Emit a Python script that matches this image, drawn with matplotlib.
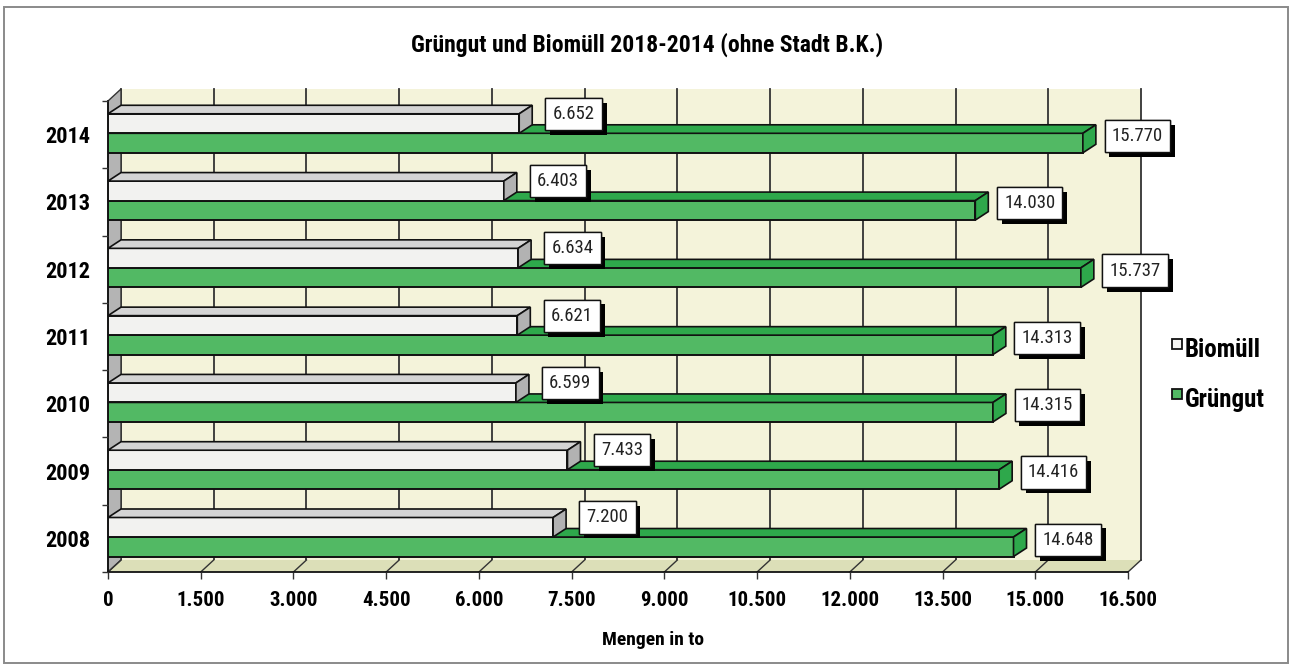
import matplotlib
matplotlib.use("Agg")
import matplotlib.pyplot as plt
import matplotlib.ticker as mticker
import matplotlib.patheffects as pe
from matplotlib.patches import Polygon, Rectangle

plt.rcParams["font.family"] = ["Roboto Condensed", "DejaVu Sans"]
plt.rcParams["font.stretch"] = "condensed"

WALL   = "#f4f3da"
FLOOR  = "#dcdfb8"
LWALL  = "#b4b4b4"
WHITE  = "#f2f2f0"
WTOP   = "#d4d4d4"
WSIDE  = "#b2b2b2"
GREEN  = "#52b964"
GDARK  = "#2ea84b"
INK    = "#111111"

years    = ["2008", "2009", "2010", "2011", "2012", "2013", "2014"]
biomuell = [7200, 7433, 6599, 6621, 6634, 6403, 6652]
gruengut = [14648, 14416, 14315, 14313, 15737, 14030, 15770]
xticks   = list(range(0, 16501, 1500))

W, H = 1291, 666
X0, X1 = 108, 1128      # front x axis in px
Y0, Y1 = 101, 572       # top / bottom of front plane in px
XMAX = 16500
px_x = (X1 - X0) / XMAX
px_y = (Y1 - Y0) / len(years)

# depth offsets (px -> data)
wdx, wdy = 13 / px_x, 12 / px_y
bdx, bdy = 13 / px_x, 8.5 / px_y
bh = 0.29


def de(v):
    return f"{int(v):,}".replace(",", ".")


fig = plt.figure(figsize=(W / 100, H / 100), dpi=100)
fig.patch.set_facecolor("white")
fig.patches.append(Rectangle((4 / W, 3 / H), (W - 7) / W, (H - 10) / H,
                             transform=fig.transFigure, fill=False,
                             edgecolor="#8a8a8a", lw=1.4))

ax = fig.add_axes([X0 / W, (H - Y1) / H, (X1 - X0) / W, (Y1 - Y0) / H])
ax.set_xlim(0, XMAX)
ax.set_ylim(-0.5, len(years) - 0.5)
ax.patch.set_visible(False)

top = len(years) - 0.5
bot = -0.5

# back wall, left wall, floor
ax.add_patch(Polygon([(wdx, bot + wdy), (XMAX + wdx, bot + wdy),
                      (XMAX + wdx, top + wdy), (wdx, top + wdy)],
                     closed=True, facecolor=WALL, edgecolor="none",
                     zorder=0.5, clip_on=False))
for t in xticks:
    ax.plot([t + wdx, t + wdx], [bot + wdy, top + wdy], color="#333333",
            lw=1.3, zorder=0.6, clip_on=False)
ax.add_patch(Polygon([(0, bot), (wdx, bot + wdy), (wdx, top + wdy), (0, top)],
                     closed=True, facecolor=LWALL, edgecolor="#333333",
                     lw=1.0, zorder=0.7, clip_on=False))
ax.add_patch(Polygon([(0, bot), (XMAX, bot), (XMAX + wdx, bot + wdy), (wdx, bot + wdy)],
                     closed=True, facecolor=FLOOR, edgecolor="none",
                     zorder=0.65, clip_on=False))
for t in xticks:
    ax.plot([t, t + wdx], [bot, bot + wdy], color="#333333",
            lw=1.0, zorder=0.8, clip_on=False)

ypos = list(range(len(years)))


def bar3d(yb, v, front, topc, side, z):
    ax.barh([yb], [v], height=bh, left=0, align="edge", color=front,
            edgecolor=INK, lw=1.4, zorder=z)
    yt = yb + bh
    ax.add_patch(Polygon([(0, yt), (v, yt), (v + bdx, yt + bdy), (bdx, yt + bdy)],
                         closed=True, facecolor=topc, edgecolor=INK, lw=1.2,
                         zorder=z, clip_on=False))
    ax.add_patch(Polygon([(v, yb), (v + bdx, yb + bdy), (v + bdx, yt + bdy), (v, yt)],
                         closed=True, facecolor=side, edgecolor=INK, lw=1.2,
                         zorder=z, clip_on=False))


def value_box(x, y, v):
    t = ax.text(x, y, de(v), ha="center", va="center", fontsize=13.5,
                color="#222222", zorder=20,
                bbox=dict(boxstyle="square,pad=0.38", facecolor="white",
                          edgecolor=INK, lw=1.0))
    t.get_bbox_patch().set_path_effects(
        [pe.withSimplePatchShadow(offset=(3.5, -3.5), shadow_rgbFace="black", alpha=1.0),
         pe.Normal()])


for i, (y, b, g) in enumerate(zip(ypos, biomuell, gruengut)):
    z = 3 + (len(years) - i) * 2
    bar3d(y - 0.27, g, GREEN, GDARK, GDARK, z)
    bar3d(y + 0.02, b, WHITE, WTOP, WSIDE, z + 1)
    value_box(b + 880, y + 0.31, b)
    value_box(g + 880, y - 0.02, g)

# axes, ticks
for s in ["top", "right"]:
    ax.spines[s].set_visible(False)
for s in ["left", "bottom"]:
    ax.spines[s].set_color(INK)
    ax.spines[s].set_linewidth(1.3)
    ax.spines[s].set_zorder(1)

ax.set_xticks(xticks)
ax.xaxis.set_major_formatter(mticker.FuncFormatter(lambda v, _: de(v)))
ax.tick_params(axis="x", length=5, width=1.0, color="#333333", pad=9,
               labelsize=15)
ax.set_yticks(ypos)
ax.set_yticklabels(years)
ax.set_yticks([p - 0.5 for p in ypos] + [top], minor=True)
ax.tick_params(axis="y", which="major", length=0, pad=13, labelsize=16)
ax.tick_params(axis="y", which="minor", length=4, width=1.0, color="#333333")
for lbl in ax.get_xticklabels() + ax.get_yticklabels():
    lbl.set_fontweight("bold")

fig.text(0.501, (H - 45) / H, "Grüngut und Biomüll 2018-2014 (ohne Stadt B.K.)",
         ha="center", va="center", fontsize=17, fontweight="bold")
fig.text(653 / W, (H - 640) / H, "Mengen in to", ha="center", va="center",
         fontsize=14, fontweight="bold")

# legend
for k, (name, fc) in enumerate([("Biomüll", WHITE), ("Grüngut", GREEN)]):
    yc = 350 + k * 50
    fig.patches.append(Rectangle((1172 / W, (H - yc + 1) / H), 10 / W, 10 / H,
                                 transform=fig.transFigure, facecolor=fc,
                                 edgecolor=INK, lw=1.3))
    fig.text(1185 / W, (H - yc) / H, name, ha="left", va="center",
             fontsize=18, fontweight="bold")

fig.savefig("out.png", dpi=100, facecolor="white")
